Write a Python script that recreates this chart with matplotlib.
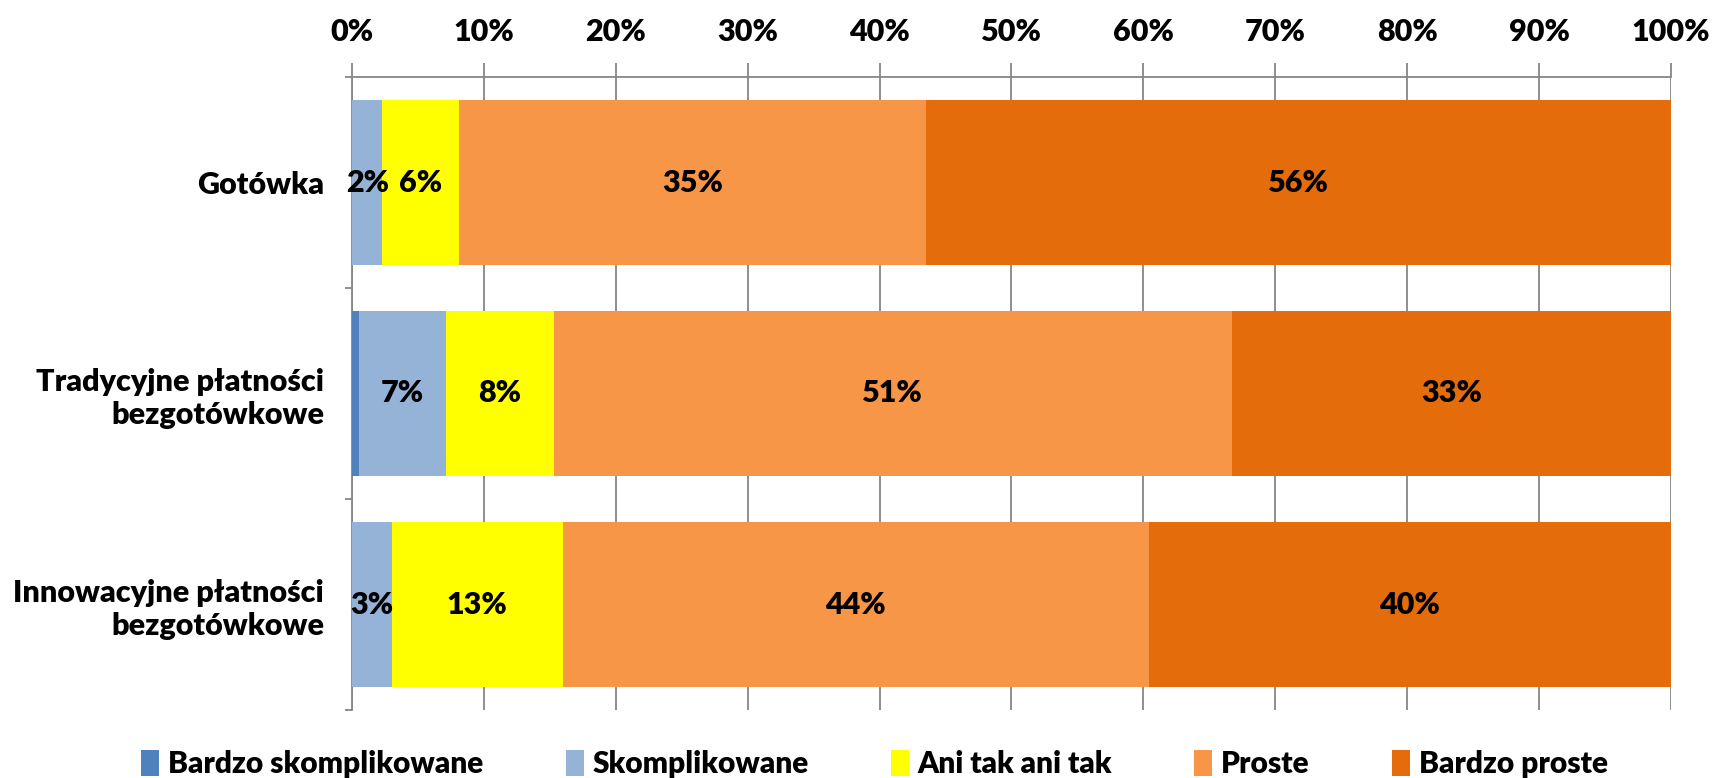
import numpy as np
import matplotlib
matplotlib.use("Agg")
import matplotlib.pyplot as plt

plt.rcParams['font.family'] = ['Lato', 'DejaVu Sans']
plt.rcParams['font.weight'] = 'heavy'

categories = ["Gotówka", "Tradycyjne płatności\nbezgotówkowe", "Innowacyjne płatności\nbezgotówkowe"]
series = ["Bardzo skomplikowane", "Skomplikowane", "Ani tak ani tak", "Proste", "Bardzo proste"]
bardzo_skompl = [0.0, 0.5, 0.0]
skompl = [2.3, 6.6, 3.0]
ani_tak = [5.8, 8.2, 13.0]
proste = [35.4, 51.4, 44.4]
bardzo_proste = [56.5, 33.3, 39.6]
colors = ["#4F81BD", "#95B3D7", "#FFFF00", "#F79646", "#E46C0A"]
xticks = [0, 10, 20, 30, 40, 50, 60, 70, 80, 90, 100]

data = np.array([bardzo_skompl, skompl, ani_tak, proste, bardzo_proste])
data = data / data.sum(axis=0) * 100

fig = plt.figure(figsize=(17.15, 7.78), dpi=100)
ax = fig.add_axes([352/1715, 1 - 710/778, (1671-352)/1715, (710-77)/778])

y = np.arange(len(categories))
left = np.zeros(len(categories))
for i, name in enumerate(series):
    ax.barh(y, data[i], left=left, height=0.78, color=colors[i], label=name, zorder=3)
    for j in range(len(categories)):
        if data[i, j] >= 1:
            ax.text(left[j] + data[i, j] / 2, y[j], "%d%%" % round(data[i, j]),
                    ha='center', va='center', fontsize=22, fontweight='heavy', zorder=4)
    left += data[i]

ax.set_xlim(0, 100)
ax.set_ylim(2.5, -0.5)
ax.xaxis.tick_top()
ax.set_xticks(xticks)
ax.set_xticklabels(["%d%%" % t for t in xticks], fontsize=22, fontweight='heavy')
ax.tick_params(axis='x', length=10, width=1.3, color='#868686', pad=12)
ax.grid(axis='x', color='#868686', linewidth=1.3, zorder=0)

ax.set_yticks(y)
ax.set_yticklabels(categories, fontsize=22, fontweight='heavy', ha='right')
ax.tick_params(axis='y', length=0, pad=20)
ax.set_yticks([-0.5, 0.5, 1.5, 2.5], minor=True)
ax.tick_params(axis='y', which='minor', length=5, width=1.3, color='#868686')

for s in ['right', 'bottom']:
    ax.spines[s].set_visible(False)
for s in ['left', 'top']:
    ax.spines[s].set_color('#868686')
    ax.spines[s].set_linewidth(1.3)

handles, labels = ax.get_legend_handles_labels()
fig.legend(handles, labels, loc='center', bbox_to_anchor=(0.51, 0.018), ncol=5,
           frameon=False, prop={'size': 21.5, 'weight': 'heavy'}, handlelength=0.6,
           handleheight=1.0, handletextpad=0.3, columnspacing=2.75)

fig.savefig("out.png", dpi=100)
